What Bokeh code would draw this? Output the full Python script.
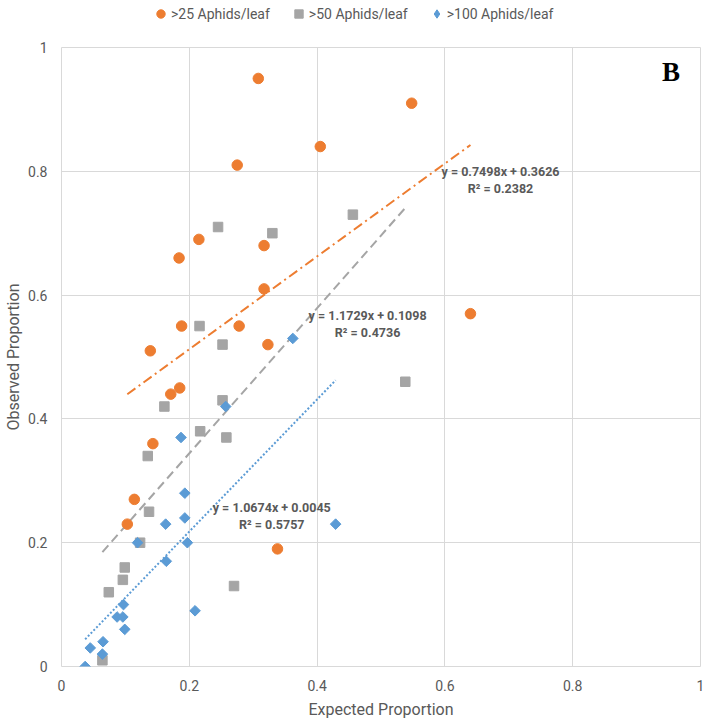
import numpy as np
from bokeh.plotting import figure
from bokeh.layouts import column
from bokeh.models import (Legend, LegendItem, FixedTicker, NumeralTickFormatter,
                          Label, Range1d, ColumnDataSource)
from bokeh.embed import file_html
from bokeh.resources import INLINE
from bokeh.core.properties import value

# ---------------- data ----------------
series_names = [">25 Aphids/leaf", ">50 Aphids/leaf", ">100 Aphids/leaf"]

x25 = [0.308, 0.405, 0.275, 0.215, 0.184, 0.317, 0.317, 0.188, 0.278, 0.323,
       0.139, 0.548, 0.640, 0.171, 0.185, 0.143, 0.114, 0.103, 0.338]
y25 = [0.95, 0.84, 0.81, 0.69, 0.66, 0.68, 0.61, 0.55, 0.55, 0.52,
       0.51, 0.91, 0.57, 0.44, 0.45, 0.36, 0.27, 0.23, 0.19]

x50 = [0.245, 0.330, 0.456, 0.216, 0.252, 0.538, 0.252, 0.161, 0.217, 0.258,
       0.135, 0.137, 0.123, 0.099, 0.096, 0.074, 0.270, 0.064]
y50 = [0.71, 0.70, 0.73, 0.55, 0.52, 0.46, 0.43, 0.42, 0.38, 0.37,
       0.34, 0.25, 0.20, 0.16, 0.14, 0.12, 0.13, 0.01]

x100 = [0.362, 0.257, 0.187, 0.193, 0.193, 0.163, 0.429, 0.119, 0.197, 0.164,
        0.097, 0.087, 0.096, 0.099, 0.209, 0.065, 0.045, 0.064, 0.037]
y100 = [0.53, 0.42, 0.37, 0.28, 0.24, 0.23, 0.23, 0.20, 0.20, 0.17,
        0.10, 0.08, 0.08, 0.06, 0.09, 0.04, 0.03, 0.02, 0.00]

slopes = [0.7498, 1.1729, 1.0674]
intercepts = [0.3626, 0.1098, 0.0045]
r_squared = [0.2382, 0.4736, 0.5757]

ticks = [0, 0.2, 0.4, 0.6, 0.8, 1]

# label positions for the trendline equations (data units)
eq_x = [0.687, 0.479, 0.329]
eq_y = [0.799, 0.567, 0.257]
eq_dy = 0.027

colors = ["#ED7D31", "#A5A5A5", "#5B9BD5"]
markers = ["circle", "square", "square"]
legend_markers = ["circle", "square", "diamond"]
angles = [0, 0, np.pi / 4]
sizes = [10.5, 9.5, 7.5]
TXT = "#595959"
GRID = "#d9d9d9"

LEG_H = 30

# ---------------- main figure ----------------
p = figure(width=705, height=721 - LEG_H, x_range=Range1d(0, 1),
           y_range=Range1d(0, 1), output_backend="svg", toolbar_location=None,
           min_border_left=61, min_border_right=5, min_border_top=47 - LEG_H,
           min_border_bottom=55)

p.outline_line_color = GRID
p.background_fill_color = "white"
p.border_fill_color = "white"

for g in (p.xgrid, p.ygrid):
    g.ticker = FixedTicker(ticks=ticks)
    g.grid_line_color = GRID
    g.grid_line_width = 1

for ax in (p.xaxis, p.yaxis):
    ax.ticker = FixedTicker(ticks=ticks)
    ax.formatter = NumeralTickFormatter(format="0.[0]")
    ax.axis_line_color = None
    ax.major_tick_line_color = None
    ax.minor_tick_line_color = None
    ax.major_tick_out = 0
    ax.major_tick_in = 0
    ax.minor_tick_out = 0
    ax.minor_tick_in = 0
    ax.major_label_text_font = "Roboto"
    ax.major_label_text_font_size = "14px"
    ax.major_label_text_color = TXT
    ax.axis_label_text_font = "Roboto"
    ax.axis_label_text_font_size = "16px"
    ax.axis_label_text_font_style = "normal"
    ax.axis_label_text_color = TXT

p.xaxis.axis_label = "Expected Proportion"
p.yaxis.axis_label = "Observed Proportion"
p.xaxis.major_label_standoff = 13
p.xaxis.axis_label_standoff = 6
p.yaxis.major_label_standoff = 14
p.yaxis.axis_label_standoff = 2

# ---------------- trend lines ----------------
xs_all = [x25, x50, x100]
ys_all = [y25, y50, y100]
dashes = ["10 4 2 4", "9 5", "2 2"]
for xs, m, b, c, d in zip(xs_all, slopes, intercepts, colors, dashes):
    xf = np.array([min(xs), max(xs)])
    p.line(xf, m * xf + b, line_color=c, line_width=2, line_dash=d)

# ---------------- markers ----------------
for xs, ys, mk, ang, sz, c in zip(xs_all, ys_all, markers, angles, sizes, colors):
    p.scatter(xs, ys, marker=mk, angle=ang, size=sz, fill_color=c, line_color=c)

# ---------------- equation labels ----------------
eq_lines = []
for m, b, r2 in zip(slopes, intercepts, r_squared):
    eq_lines.append(("y = %.4fx + %.4f" % (m, b), "R² = %.4f" % r2))

src = ColumnDataSource(dict(
    x=[v for v in eq_x for _ in (0, 1)],
    y=[v - k * eq_dy for v in eq_y for k in (0, 1)],
    text=[t for pair in eq_lines for t in pair],
))
p.text(x="x", y="y", text="text", source=src, text_font=value("Roboto"),
       text_font_style="bold", text_font_size="12.5px", text_color=TXT,
       text_align="center", text_baseline="middle")

p.add_layout(Label(x=0.954, y=0.961, text="B", text_font="Liberation Serif",
                   text_font_style="bold", text_font_size="27px",
                   text_color="black", text_align="center",
                   text_baseline="middle"))

# ---------------- legend strip ----------------
# the strip's ranges lie outside the data, so its renderers only feed the legend
lg = figure(width=705, height=LEG_H, x_range=Range1d(10, 11),
            y_range=Range1d(10, 11), output_backend="svg", toolbar_location=None,
            x_axis_type=None, y_axis_type=None, min_border=0)
lg.outline_line_color = None
lg.grid.visible = False
lg.border_fill_color = "white"

leg_renderers = []
for xs, ys, mk, c in zip(xs_all, ys_all, legend_markers, colors):
    leg_renderers.append(lg.scatter(x=xs, y=ys, marker=mk, size=8,
                                    fill_color=c, line_color=c))

legend = Legend(items=[LegendItem(label=n, renderers=[r])
                       for n, r in zip(series_names, leg_renderers)],
                orientation="horizontal", location=(89, 6),
                label_text_font="Roboto", label_text_font_size="14px",
                label_text_color=TXT, glyph_width=21, glyph_height=21,
                label_height=21, label_standoff=-2, spacing=18, padding=0,
                margin=0, border_line_color=None, background_fill_alpha=0)
lg.add_layout(legend, "center")

layout = column(lg, p, spacing=0)
open("out.html", "w").write(file_html(layout, INLINE))
